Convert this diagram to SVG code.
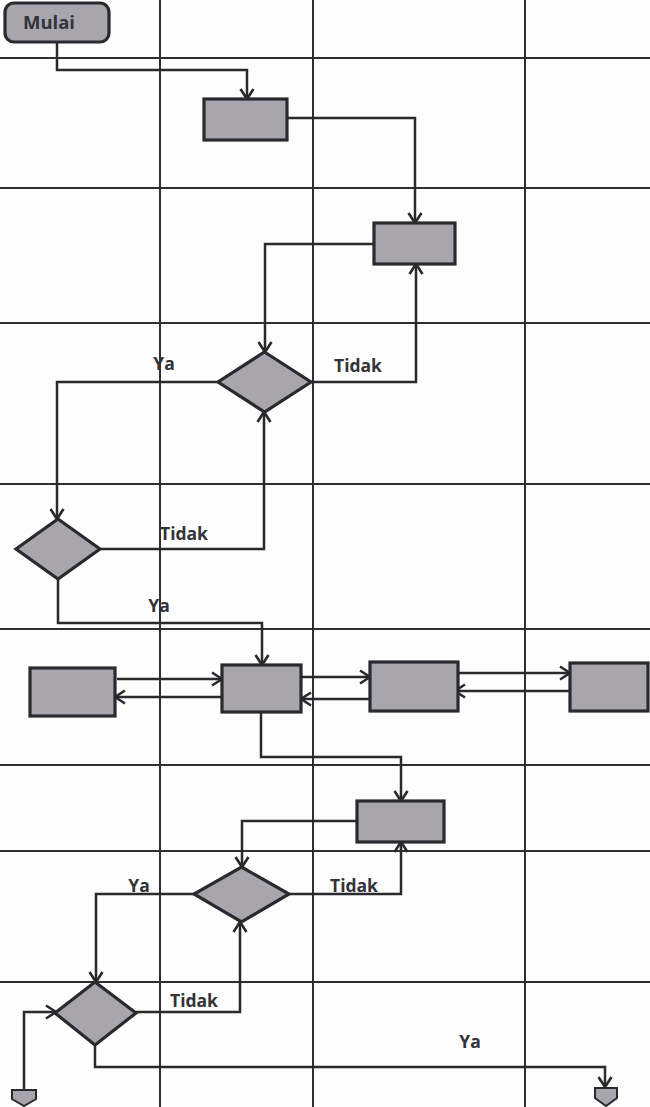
<svg xmlns="http://www.w3.org/2000/svg" width="650" height="1107" viewBox="0 0 650 1107">
<style>
.grid{stroke:#2e2e33;stroke-width:2;fill:none}
.node{fill:#a9a5ae;stroke:#2a2a2e;stroke-width:3.2}
.conn{fill:none;stroke:#2a2a2e;stroke-width:2.5;marker-end:url(#arr)}
.lbl{font-family:"Open Sans","DejaVu Sans",sans-serif;font-weight:bold;font-size:17.5px;fill:#333338;text-anchor:middle}
</style>
<defs>
<marker id="arr" markerUnits="userSpaceOnUse" markerWidth="16" markerHeight="16" refX="12" refY="8" orient="auto">
<path d="M2,1.5 L12,8 L2,14.5" fill="none" stroke="#2a2a2e" stroke-width="2.6"/>
</marker>
</defs>
<rect width="650" height="1107" fill="#fdfdfd"/>
<g id="grid">
<line class="grid" x1="160" y1="0" x2="160" y2="1107"/>
<line class="grid" x1="313" y1="0" x2="313" y2="1107"/>
<line class="grid" x1="525" y1="0" x2="525" y2="1107"/>
<line class="grid" x1="0" y1="58" x2="650" y2="58"/>
<line class="grid" x1="0" y1="188" x2="650" y2="188"/>
<line class="grid" x1="0" y1="323" x2="650" y2="323"/>
<line class="grid" x1="0" y1="484" x2="650" y2="484"/>
<line class="grid" x1="0" y1="629" x2="650" y2="629"/>
<line class="grid" x1="0" y1="765" x2="650" y2="765"/>
<line class="grid" x1="0" y1="851" x2="650" y2="851"/>
<line class="grid" x1="0" y1="982" x2="650" y2="982"/>
</g>
<g id="connectors">
<path class="conn" d="M57,42 V70 H247 V99"/>
<path class="conn" d="M287,118 H415 V223"/>
<path class="conn" d="M374,244 H265 V352"/>
<path class="conn" d="M311,382 H416 V264"/>
<path class="conn" d="M218,382 H57 V519"/>
<path class="conn" d="M100,549 H264 V412"/>
<path class="conn" d="M58,579 V623 H262 V665"/>
<path class="conn" d="M117,679 H222"/>
<path class="conn" d="M222,697 H115"/>
<path class="conn" d="M301,677 H370"/>
<path class="conn" d="M370,699 H301"/>
<path class="conn" d="M452,673 H570"/>
<path class="conn" d="M570,691 H455"/>
<path class="conn" d="M261,712 V757 H401 V801"/>
<path class="conn" d="M357,821 H242 V867"/>
<path class="conn" d="M289,894 H401 V842"/>
<path class="conn" d="M194,894 H96 V982"/>
<path class="conn" d="M136,1012 H240 V922"/>
<path class="conn" d="M24,1089 V1012 H56"/>
<path class="conn" d="M95,1045 V1067 H605 V1087"/>
</g>
<g id="mulai"><rect class="node" x="5" y="3" width="104" height="39" rx="9"/><text class="lbl" x="49" y="29" style="font-size:18.5px">Mulai</text></g>
<g id="box1"><rect class="node" x="204" y="99" width="83" height="41"/></g>
<g id="box2"><rect class="node" x="374" y="223" width="81" height="41"/></g>
<g id="dec1"><polygon class="node" points="264.5,352 311,382 264.5,412 218,382"/></g>
<g id="dec2"><polygon class="node" points="58,519 100,549 58,579 16,549"/></g>
<g id="boxA"><rect class="node" x="30" y="668" width="85" height="48"/></g>
<g id="boxB"><rect class="node" x="222" y="665" width="79" height="47"/></g>
<g id="boxC"><rect class="node" x="370" y="662" width="88" height="49"/></g>
<g id="boxD"><rect class="node" x="570" y="663" width="78" height="48"/></g>
<g id="boxE"><rect class="node" x="357" y="801" width="87" height="41"/></g>
<g id="dec3"><polygon class="node" points="241.5,867 289,894 241.5,922 194,894"/></g>
<g id="dec4"><polygon class="node" points="95,982 136,1013 95,1045 55,1013"/></g>
<g id="off1"><polygon class="node" points="12,1090 36,1090 36,1099 24,1106 12,1099" style="stroke-width:2"/></g>
<g id="off2"><polygon class="node" points="595,1088 617,1088 617,1098 606,1106 595,1098" style="stroke-width:2"/></g>
<g id="labels">
<text class="lbl" x="164" y="370">Ya</text>
<text class="lbl" x="358" y="372">Tidak</text>
<text class="lbl" x="184" y="540">Tidak</text>
<text class="lbl" x="159" y="612">Ya</text>
<text class="lbl" x="139" y="892">Ya</text>
<text class="lbl" x="354" y="892">Tidak</text>
<text class="lbl" x="194" y="1007">Tidak</text>
<text class="lbl" x="470" y="1048">Ya</text>
</g>
</svg>
